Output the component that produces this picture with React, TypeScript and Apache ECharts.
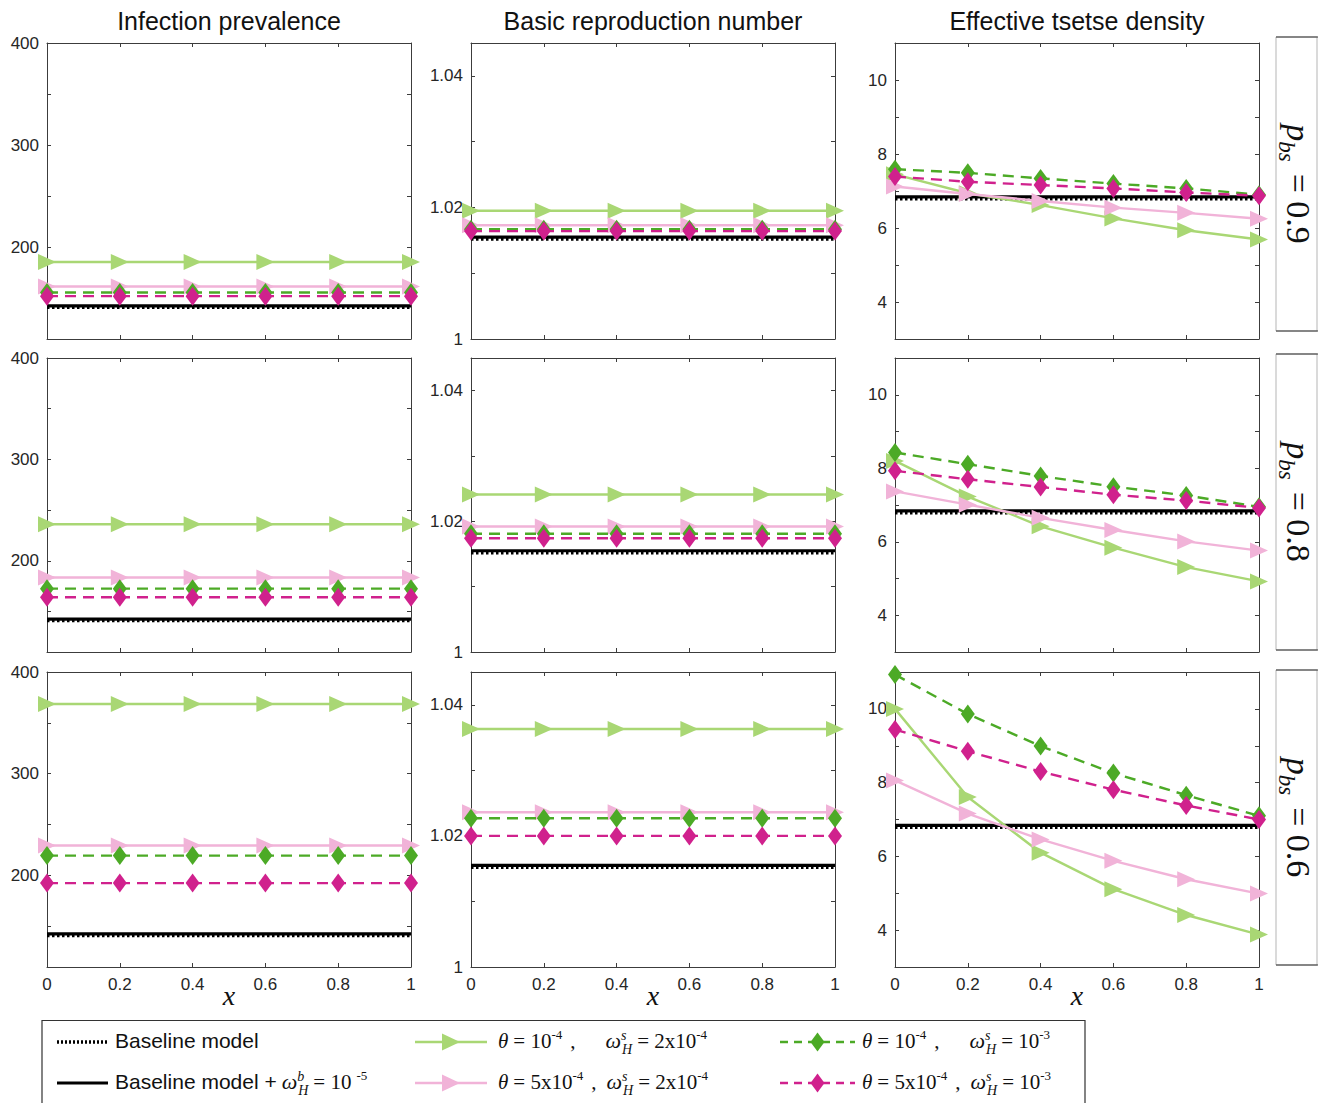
import React, { useEffect, useRef } from "react";
import * as echarts from "echarts";

// ---------------- data ----------------
const X_VALUES = [0, 0.2, 0.4, 0.6, 0.8, 1];
const X_TICKS = [0, 0.2, 0.4, 0.6, 0.8, 1];
const PBS_VALUES = ["0.9", "0.8", "0.6"];
const PANEL_TITLES = ["Infection prevalence", "Basic reproduction number", "Effective tsetse density"];

const Y_MIN = [110, 1, 3];
const Y_MAX = [400, 1.045, 11];
const Y_TICKS = [
  [150, 200, 250, 300, 350, 400],
  [1, 1.01, 1.02, 1.03, 1.04],
  [4, 5, 6, 7, 8, 9, 10],
];
const Y_TICK_LABELS = [
  [200, 300, 400],
  [1, 1.02, 1.04],
  [4, 6, 8, 10],
];

// Infection prevalence; rows: P_bs = 0.9, 0.8, 0.6
const PREV_BASELINE = [
  [141, 141, 141, 141, 141, 141],
  [141, 141, 141, 141, 141, 141],
  [141, 141, 141, 141, 141, 141],
];
const PREV_BASELINE_WB = [
  [142.5, 142.5, 142.5, 142.5, 142.5, 142.5],
  [142.5, 142.5, 142.5, 142.5, 142.5, 142.5],
  [142.5, 142.5, 142.5, 142.5, 142.5, 142.5],
];
const PREV_T1_W2 = [
  [185.5, 185.5, 185.5, 185.5, 185.5, 185.5],
  [236, 236, 236, 236, 236, 236],
  [368.5, 368.5, 368.5, 368.5, 368.5, 368.5],
];
const PREV_T5_W2 = [
  [161.5, 161.5, 161.5, 161.5, 161.5, 161.5],
  [183.5, 183.5, 183.5, 183.5, 183.5, 183.5],
  [229.5, 229.5, 229.5, 229.5, 229.5, 229.5],
];
const PREV_T1_W10 = [
  [155.5, 155.5, 155.5, 155.5, 155.5, 155.5],
  [172.5, 172.5, 172.5, 172.5, 172.5, 172.5],
  [219.5, 219.5, 219.5, 219.5, 219.5, 219.5],
];
const PREV_T5_W10 = [
  [152, 152, 152, 152, 152, 152],
  [164, 164, 164, 164, 164, 164],
  [192.5, 192.5, 192.5, 192.5, 192.5, 192.5],
];

// Basic reproduction number
const R0_BASELINE = [
  [1.0152, 1.0152, 1.0152, 1.0152, 1.0152, 1.0152],
  [1.0152, 1.0152, 1.0152, 1.0152, 1.0152, 1.0152],
  [1.0152, 1.0152, 1.0152, 1.0152, 1.0152, 1.0152],
];
const R0_BASELINE_WB = [
  [1.0155, 1.0155, 1.0155, 1.0155, 1.0155, 1.0155],
  [1.0155, 1.0155, 1.0155, 1.0155, 1.0155, 1.0155],
  [1.0155, 1.0155, 1.0155, 1.0155, 1.0155, 1.0155],
];
const R0_T1_W2 = [
  [1.0195, 1.0195, 1.0195, 1.0195, 1.0195, 1.0195],
  [1.0241, 1.0241, 1.0241, 1.0241, 1.0241, 1.0241],
  [1.0363, 1.0363, 1.0363, 1.0363, 1.0363, 1.0363],
];
const R0_T5_W2 = [
  [1.0173, 1.0173, 1.0173, 1.0173, 1.0173, 1.0173],
  [1.0192, 1.0192, 1.0192, 1.0192, 1.0192, 1.0192],
  [1.0236, 1.0236, 1.0236, 1.0236, 1.0236, 1.0236],
];
const R0_T1_W10 = [
  [1.0167, 1.0167, 1.0167, 1.0167, 1.0167, 1.0167],
  [1.0181, 1.0181, 1.0181, 1.0181, 1.0181, 1.0181],
  [1.0227, 1.0227, 1.0227, 1.0227, 1.0227, 1.0227],
];
const R0_T5_W10 = [
  [1.0164, 1.0164, 1.0164, 1.0164, 1.0164, 1.0164],
  [1.0174, 1.0174, 1.0174, 1.0174, 1.0174, 1.0174],
  [1.02, 1.02, 1.02, 1.02, 1.02, 1.02],
];

// Effective tsetse density
const DENS_BASELINE = [
  [6.79, 6.79, 6.79, 6.79, 6.79, 6.79],
  [6.79, 6.79, 6.79, 6.79, 6.79, 6.79],
  [6.79, 6.79, 6.79, 6.79, 6.79, 6.79],
];
const DENS_BASELINE_WB = [
  [6.84, 6.84, 6.84, 6.84, 6.84, 6.84],
  [6.84, 6.84, 6.84, 6.84, 6.84, 6.84],
  [6.84, 6.84, 6.84, 6.84, 6.84, 6.84],
];
const DENS_T1_W2 = [
  [7.45, 6.94, 6.62, 6.26, 5.94, 5.69],
  [8.2, 7.23, 6.42, 5.84, 5.31, 4.92],
  [10.0, 7.61, 6.1, 5.11, 4.41, 3.88],
];
const DENS_T5_W2 = [
  [7.12, 6.92, 6.73, 6.55, 6.41, 6.25],
  [7.37, 7.01, 6.65, 6.32, 6.01, 5.76],
  [8.06, 7.16, 6.46, 5.88, 5.38, 4.99],
];
const DENS_T1_W10 = [
  [7.59, 7.49, 7.34, 7.2, 7.07, 6.9],
  [8.43, 8.11, 7.79, 7.5, 7.26, 6.95],
  [10.93, 9.86, 8.99, 8.26, 7.66, 7.1],
];
const DENS_T5_W10 = [
  [7.39, 7.25, 7.16, 7.07, 6.96, 6.87],
  [7.93, 7.7, 7.49, 7.28, 7.12, 6.92],
  [9.44, 8.85, 8.3, 7.81, 7.38, 7.0],
];

const PANEL_DATA = [
  [PREV_BASELINE, PREV_BASELINE_WB, PREV_T1_W2, PREV_T5_W2, PREV_T1_W10, PREV_T5_W10],
  [R0_BASELINE, R0_BASELINE_WB, R0_T1_W2, R0_T5_W2, R0_T1_W10, R0_T5_W10],
  [DENS_BASELINE, DENS_BASELINE_WB, DENS_T1_W2, DENS_T5_W2, DENS_T1_W10, DENS_T5_W10],
];

// ---------------- styles ----------------
const LIGHT_GREEN = "#a9d774";
const PINK = "#f1b3d8";
const DARK_GREEN = "#4caa26";
const MAGENTA = "#d0218d";

const SERIF = '"Liberation Serif", "Times New Roman", serif';
const SANS = '"Liberation Sans", Arial, Helvetica, sans-serif';

const SERIES_DEFS: any[] = [
  { name: "Baseline model", color: "#000", width: 3.5, dash: [2.5, 2.5], symbol: "none" },
  { name: "Baseline model + wb", color: "#000", width: 3.2, dash: "solid", symbol: "none" },
  { name: "t1 w2", color: LIGHT_GREEN, width: 2.4, dash: "solid", symbol: "triangle", size: [16, 18], rotate: -90 },
  { name: "t5 w2", color: PINK, width: 2.4, dash: "solid", symbol: "triangle", size: [16, 18], rotate: -90 },
  { name: "t1 w10", color: DARK_GREEN, width: 2.4, dash: [11, 7], symbol: "diamond", size: [14, 19] },
  { name: "t5 w10", color: MAGENTA, width: 2.4, dash: [11, 7], symbol: "diamond", size: [14, 19] },
];

const COL_LEFT = [47, 471, 895];
const PLOT_W = 364;
const ROW_TOP = [43, 358, 672];
const ROW_H = [296, 294, 295];
const BOX_Y = [[37, 331], [354, 650], [670, 965]];

// ---------------- text layout helpers ----------------
let _ctx: any = null;
function measure(text: string, font: string) {
  if (!_ctx) _ctx = document.createElement("canvas").getContext("2d");
  _ctx.font = font;
  return _ctx.measureText(text).width;
}
function fontOf(size: number, italic: boolean, sans: boolean) {
  return `${italic ? "italic " : ""}${size}px ${sans ? SANS : SERIF}`;
}
function txt(text: string, x: number, baseline: number, size: number, font: string, fill: string) {
  return {
    type: "text",
    x,
    y: baseline - 0.34 * size,
    silent: true,
    style: { text, font, fill, align: "left", verticalAlign: "middle", textAlign: "left", textVerticalAlign: "middle" },
  };
}
type Seg = { t?: string; gap?: number; size?: number; italic?: boolean; sans?: boolean; rise?: number; top?: string; bot?: string };
function layout(segs: Seg[], x0: number, base: number, fill: string) {
  const els: any[] = [];
  let x = x0;
  for (const s of segs) {
    if (s.gap) { x += s.gap; continue; }
    const size = s.size ?? 21;
    if (s.top !== undefined) {
      const f = fontOf(size, true, false);
      els.push(txt(s.top, x, base - 8, size, f, fill));
      els.push(txt(s.bot as string, x + 1, base + 6, size, f, fill));
      x += Math.max(measure(s.top, f), measure(s.bot as string, f) + 1);
      continue;
    }
    const f = fontOf(size, !!s.italic, !!s.sans);
    els.push(txt(s.t as string, x, base - (s.rise ?? 0), size, f, fill));
    x += measure(s.t as string, f);
  }
  return { els, width: x - x0 };
}

const SUP = (t: string): Seg => ({ t, size: 13, rise: 9 });
const OMEGA_S: Seg[] = [{ t: "ω", italic: true, size: 22 }, { top: "s", bot: "H", size: 14 }, { gap: 5 }];
const LEGEND_TEXTS: Seg[][] = [
  [{ t: "Baseline model", sans: true, size: 21 }],
  [{ t: "Baseline model +", sans: true, size: 21 }, { gap: 5 }, { t: "ω", italic: true, size: 22 }, { top: "b", bot: "H", size: 14 }, { gap: 5 }, { t: "= 10" }, { gap: 5 }, SUP("-5")],
  [{ t: "θ", italic: true }, { gap: 5 }, { t: "= 10" }, SUP("-4"), { gap: 8 }, { t: "," }, { gap: 30 }, ...OMEGA_S, { t: "= 2x10" }, SUP("-4")],
  [{ t: "θ", italic: true }, { gap: 5 }, { t: "= 5x10" }, SUP("-4"), { gap: 8 }, { t: "," }, { gap: 10 }, ...OMEGA_S, { t: "= 2x10" }, SUP("-4")],
  [{ t: "θ", italic: true }, { gap: 5 }, { t: "= 10" }, SUP("-4"), { gap: 8 }, { t: "," }, { gap: 30 }, ...OMEGA_S, { t: "= 10" }, SUP("-3")],
  [{ t: "θ", italic: true }, { gap: 5 }, { t: "= 5x10" }, SUP("-4"), { gap: 8 }, { t: "," }, { gap: 10 }, ...OMEGA_S, { t: "= 10" }, SUP("-3")],
];
const LEGEND_TEXT_X = [115, 115, 498, 498, 862, 862];
const LEGEND_ROW_BASE = [1048, 1089];
const LEGEND_ROW_Y = [1042, 1083];

function buildGraphic() {
  const els: any[] = [];
  // titles
  PANEL_TITLES.forEach((t, c) => {
    els.push({
      type: "text", x: COL_LEFT[c] + PLOT_W / 2, y: 21, silent: true,
      style: { text: t, font: `25px ${SANS}`, fill: "#111", align: "center", verticalAlign: "middle", textAlign: "center", textVerticalAlign: "middle" },
    });
  });
  // right-side P_bs boxes
  PBS_VALUES.forEach((v, r) => {
    const [y0, y1] = BOX_Y[r];
    els.push({ type: "rect", silent: true, shape: { x: 1276, y: y0, width: 41, height: y1 - y0 }, style: { fill: "none", stroke: "#b5b5b5", lineWidth: 1 } });
    els.push({ type: "line", silent: true, shape: { x1: 1276, y1: y0, x2: 1318, y2: y0 }, style: { stroke: "#333", lineWidth: 1.2 } });
    els.push({ type: "line", silent: true, shape: { x1: 1276, y1: y1, x2: 1318, y2: y1 }, style: { stroke: "#333", lineWidth: 1.2 } });
    const segs: Seg[] = [{ t: "p", italic: true, size: 34 }, { t: "bs", italic: true, size: 23, rise: -8 }, { gap: 12 }, { t: "= " + v, size: 34 }];
    const w = layout(segs, 0, 0, "#111").width;
    const lay = layout(segs, -w / 2, 11, "#111");
    els.push({ type: "group", x: 1298, y: (y0 + y1) / 2, rotation: -Math.PI / 2, children: lay.els });
  });
  // legend frame
  els.push({ type: "polyline", silent: true, shape: { points: [[42, 1103], [42, 1020.5], [1085, 1020.5], [1085, 1103]] }, style: { fill: "none", stroke: "#333", lineWidth: 1.2 } });
  // legend samples
  const sampleX = [[57, 108], [57, 108], [415, 487], [415, 487], [780, 855], [780, 855]];
  SERIES_DEFS.forEach((d, i) => {
    const row = i % 2;
    const y = LEGEND_ROW_Y[row];
    const [xa, xb] = sampleX[i];
    els.push({
      type: "line", silent: true, shape: { x1: xa, y1: y, x2: xb, y2: y },
      style: { stroke: d.color, lineWidth: d.width, lineDash: Array.isArray(d.dash) ? (i < 2 ? [2, 2] : [8, 6]) : null },
    });
    const cx = (xa + xb) / 2;
    if (d.symbol === "triangle") {
      els.push({ type: "polygon", silent: true, shape: { points: [[cx - 9, y - 8.5], [cx + 9, y], [cx - 9, y + 8.5]] }, style: { fill: d.color } });
    } else if (d.symbol === "diamond") {
      els.push({ type: "polygon", silent: true, shape: { points: [[cx, y - 9.5], [cx + 7, y], [cx, y + 9.5], [cx - 7, y]] }, style: { fill: d.color } });
    }
    const lay = layout(LEGEND_TEXTS[i], LEGEND_TEXT_X[i], LEGEND_ROW_BASE[row], "#111");
    els.push(...lay.els);
  });
  return els;
}

function buildOption() {
  const grid: any[] = [];
  const xAxis: any[] = [];
  const yAxis: any[] = [];
  const series: any[] = [];
  const axisLine = { show: true, onZero: false, lineStyle: { color: "#3c3c3c", width: 1 } };
  const tickStyle = { color: "#3c3c3c", width: 1 };
  const labelStyle = { fontFamily: SANS, fontSize: 17, color: "#262626" };
  for (let r = 0; r < 3; r++) {
    for (let c = 0; c < 3; c++) {
      const g = r * 3 + c;
      grid.push({ left: COL_LEFT[c], top: ROW_TOP[r], width: PLOT_W, height: ROW_H[r], show: false });
      xAxis.push({
        gridIndex: g, type: "value", position: "bottom", min: 0, max: 1,
        axisLine, splitLine: { show: false },
        axisTick: { show: true, inside: true, length: 4, customValues: X_TICKS, lineStyle: tickStyle },
        axisLabel: { show: r === 2, customValues: X_TICKS, margin: 9, ...labelStyle, formatter: (v: number) => String(v) },
        name: r === 2 ? "x" : "", nameLocation: "middle", nameGap: 14, nameMoveOverlap: false,
        nameTextStyle: { fontFamily: SERIF, fontStyle: "italic", fontSize: 28, color: "#111" },
      });
      xAxis.push({
        gridIndex: g, type: "value", position: "top", min: 0, max: 1,
        axisLine, splitLine: { show: false },
        axisTick: { show: true, inside: true, length: 4, customValues: X_TICKS, lineStyle: tickStyle },
        axisLabel: { show: false, customValues: X_TICKS },
      });
      yAxis.push({
        gridIndex: g, type: "value", position: "left", min: Y_MIN[c], max: Y_MAX[c],
        axisLine, splitLine: { show: false },
        axisTick: { show: true, inside: true, length: 4, customValues: Y_TICKS[c], lineStyle: tickStyle },
        axisLabel: { show: true, customValues: Y_TICK_LABELS[c], margin: 8, ...labelStyle, formatter: (v: number) => String(v) },
      });
      yAxis.push({
        gridIndex: g, type: "value", position: "right", min: Y_MIN[c], max: Y_MAX[c],
        axisLine, splitLine: { show: false },
        axisTick: { show: true, inside: true, length: 4, customValues: Y_TICKS[c], lineStyle: tickStyle },
        axisLabel: { show: false, customValues: Y_TICK_LABELS[c] },
      });
      SERIES_DEFS.forEach((d, k) => {
        const vals = PANEL_DATA[c][k][r];
        series.push({
          type: "line", name: d.name, xAxisIndex: 2 * g, yAxisIndex: 2 * g,
          data: X_VALUES.map((x, i) => [x, vals[i]]),
          symbol: d.symbol, symbolSize: d.size, symbolRotate: d.rotate || 0, showSymbol: d.symbol !== "none",
          lineStyle: { color: d.color, width: d.width, type: d.dash },
          itemStyle: { color: d.color },
          z: 2 + k, clip: false, silent: true, emphasis: { disabled: true },
        });
      });
    }
  }
  return {
    animation: false,
    backgroundColor: "#ffffff",
    grid, xAxis, yAxis, series,
    graphic: { elements: buildGraphic() },
  };
}

export default function App() {
  const ref = useRef<HTMLDivElement>(null);
  useEffect(() => {
    document.body.style.margin = "0";
    const chart = echarts.init(ref.current as HTMLDivElement, undefined, { renderer: "svg" });
    chart.setOption(buildOption() as any);
    return () => chart.dispose();
  }, []);
  return <div ref={ref} style={{ width: 1324, height: 1103, background: "#fff" }} />;
}
